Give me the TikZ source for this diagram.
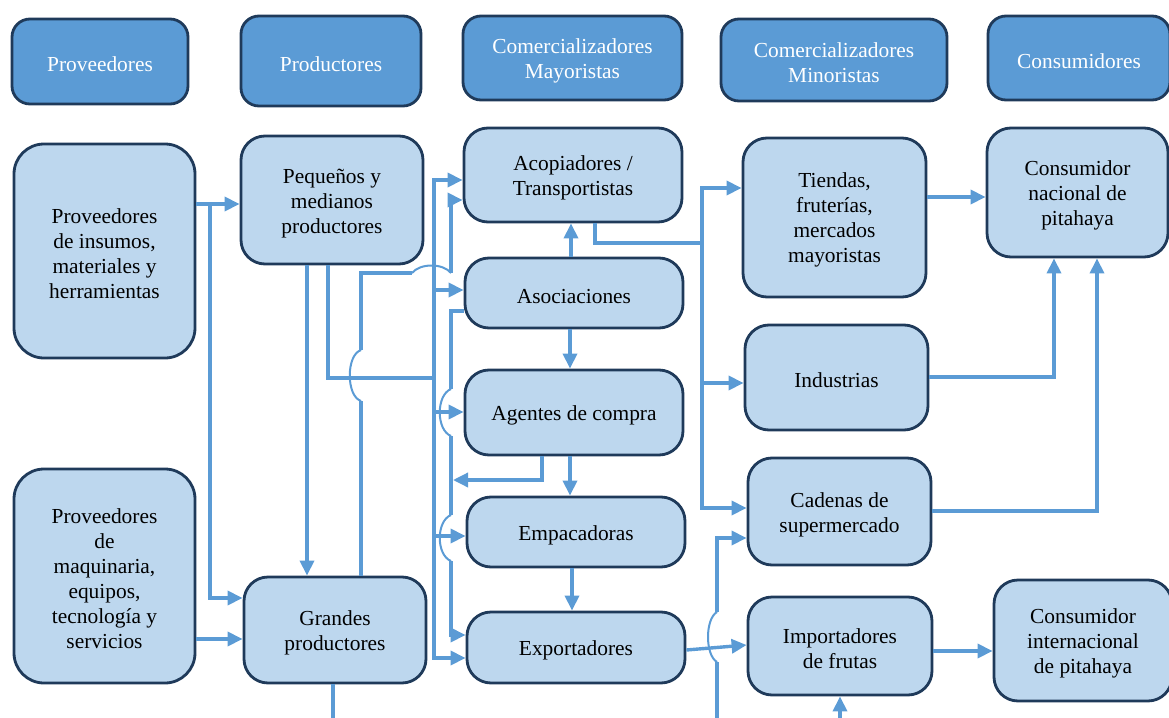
\documentclass[tikz,border=0pt]{standalone}
\usepackage{fontspec}
\setmainfont{Liberation Serif}
\usetikzlibrary{arrows.meta}
\definecolor{flowblue}{HTML}{5B9BD5}
\definecolor{boxblue}{HTML}{BDD7EE}
\definecolor{edgeblue}{HTML}{1F3A5A}
\newcommand{\sline}{\rule{0pt}{10.3pt}}

\begin{document}
\begin{tikzpicture}
  [x=0.5pt,y=-0.5pt,
   every node/.style={font=\fontsize{10.7}{12.5}\selectfont,align=center,inner sep=0pt,draw=edgeblue,line width=1.4pt},
   hdr/.style={rounded corners=9pt,fill=flowblue,text=white},
   box/.style={rounded corners=12pt,fill=boxblue},
   flow/.style={draw=flowblue,line width=1.7pt,-{Triangle[length=7.5pt,width=7pt]}},
   link/.style={draw=flowblue,line width=1.7pt},
   hop/.style={draw=flowblue,line width=1pt}]
  \useasboundingbox (0,0) rectangle (1169,718);

  % headers
  \node[hdr,minimum width=88pt,minimum height=42.5pt] (hProv) at (100,61.5) {\sline Proveedores};
  \node[hdr,minimum width=90pt,minimum height=45pt] (hProd) at (331,61) {\sline Productores};
  \node[hdr,minimum width=109.5pt,minimum height=42pt] (hMay) at (572.5,58) {\sline Comercializadores\\Mayoristas};
  \node[hdr,minimum width=113pt,minimum height=41pt] (hMin) at (834,60) {\sline Comercializadores\\Minoristas};
  \node[hdr,minimum width=91pt,minimum height=42pt] (hCons) at (1079,58) {\sline Consumidores};

  % actors
  \node[box,rounded corners=15pt,minimum width=90.5pt,minimum height=107pt] (insumos) at (104.5,251) {\sline Proveedores\\de insumos,\\materiales y\\herramientas};
  \node[box,rounded corners=15pt,minimum width=90.5pt,minimum height=107pt] (maquinaria) at (104.5,576) {\sline Proveedores\\de\\maquinaria,\\equipos,\\tecnología y\\servicios};
  \node[box,minimum width=91pt,minimum height=64pt] (pequenos) at (332,200) {\sline Pequeños y\\medianos\\productores};
  \node[box,minimum width=91pt,minimum height=53pt] (grandes) at (335,630) {\sline Grandes\\productores};
  \node[box,minimum width=109pt,minimum height=47pt] (acopio) at (573,175) {\sline Acopiadores /\\Transportistas};
  \node[box,minimum width=109pt,minimum height=35pt] (asoc) at (574,293) {\sline Asociaciones};
  \node[box,minimum width=109pt,minimum height=42.5pt] (agentes) at (574,412.5) {\sline Agentes de compra};
  \node[box,minimum width=109pt,minimum height=35pt] (empac) at (576,532) {\sline Empacadoras};
  \node[box,minimum width=109pt,minimum height=35.5pt] (export) at (576,647.5) {\sline Exportadores};
  \node[box,minimum width=91.5pt,minimum height=79.5pt] (tiendas) at (834.5,217.5) {\sline Tiendas,\\fruterías,\\mercados\\mayoristas};
  \node[box,minimum width=91.5pt,minimum height=52.5pt] (industrias) at (836.5,377.5) {\sline Industrias};
  \node[box,minimum width=91.5pt,minimum height=53.5pt] (cadenas) at (839.5,511.5) {\sline Cadenas de\\supermercado};
  \node[box,minimum width=92pt,minimum height=49pt] (import) at (840,646) {\sline Importadores\\de frutas};
  \node[box,minimum width=90.5pt,minimum height=64.5pt] (nacional) at (1077.5,192.5) {\sline Consumidor\\nacional de\\pitahaya};
  \node[box,minimum width=89pt,minimum height=60.5pt] (internac) at (1083,640.5) {\sline Consumidor\\internacional\\de pitahaya};

  % proveedores -> productores
  \coordinate (jIns) at (210,204);
  \draw[flow] (insumos.east |- jIns) -- (pequenos.west |- jIns);
  \draw[flow] (jIns) |- (grandes.west |- 0,598);
  \draw[flow] (maquinaria.east |- 0,639) -- (grandes.west |- 0,639);
  \draw[flow] (pequenos.south -| 307,0) -- (grandes.north -| 307,0);

  % productores -> mayoristas
  \coordinate (busP) at (434,378);
  \coordinate (busT) at (434,180);
  \coordinate (busB) at (434,658);
  \draw[link] (pequenos.south -| 328,0) |- (busP);
  \draw[flow] (busP) -- (busT) -- (acopio.west |- busT);
  \draw[flow] (busP) -- (busB) -- (export.west |- busB);
\foreach \y/\n in
{290/asoc, 412/agentes, 536/empac}
    \draw[flow] (434,\y) -- (\n.west |- 0,\y);

  \draw[link] (grandes.north -| 361,0) -- (361,401);
  \draw[hop] (361,401) .. controls (346,396) and (346,355) .. (361,350);
  \draw[link] (361,350) -- (361,273) -- (412,273);
  \draw[hop] (412,273) .. controls (420,263) and (443,263) .. (451,273);
  \draw[flow] (451,273) -- (451,200) -- (acopio.west |- 0,200);

  % within mayoristas
  \draw[link] (asoc.west |- 0,311) -- (451,311) -- (451,389);
  \draw[hop] (451,389) .. controls (436,395) and (436,430) .. (451,436);
  \draw[link] (451,436) -- (451,515);
  \draw[hop] (451,515) .. controls (436,521) and (436,555) .. (451,561);
  \draw[flow] (451,561) -- (451,635) -- (export.west |- 0,635);
  \draw[flow] (agentes.south -| 542,0) |- (453,480);
  \draw[flow] (asoc.north -| 571,0) -- (acopio.south -| 571,0);
  \draw[flow] (asoc.south -| 570,0) -- (agentes.north -| 570,0);
  \draw[flow] (agentes.south -| 570,0) -- (empac.north -| 570,0);
  \draw[flow] (empac.south -| 572,0) -- (export.north -| 572,0);

  % mayoristas -> minoristas
  \coordinate (busM) at (702,243);
  \draw[link] (acopio.south -| 595,0) |- (busM);
  \draw[flow] (busM) -- (702,188) -- (tiendas.west |- 0,188);
  \draw[flow] (busM) -- (702,508) -- (cadenas.west |- 0,508);
  \draw[flow] (702,383) -- (industrias.west |- 0,383);
  \draw[flow] (export.east |- 0,650) -- (import.west |- 0,645);

  % from below the page
  \coordinate (botA) at (717,718);
  \coordinate (botB) at (840,718);
  \draw[link] (botA) -- (717,662);
  \draw[hop] (717,662) .. controls (705,655) and (705,619) .. (717,612);
  \draw[flow] (717,612) -- (717,538) -- (cadenas.west |- 0,538);
  \draw[flow] (botB) -- (import.south -| botB);
  \draw[link] (grandes.south -| 333,0) -- (333,718);

  % minoristas -> consumidores
  \draw[flow] (tiendas.east |- 0,197) -- (nacional.west |- 0,197);
  \draw[flow] (industrias.east |- 0,377) -| (nacional.south -| 1054,0);
  \draw[flow] (cadenas.east |- 0,511) -| (nacional.south -| 1097,0);
  \draw[flow] (import.east |- 0,651) -- (internac.west |- 0,651);

\end{tikzpicture}
\end{document}
